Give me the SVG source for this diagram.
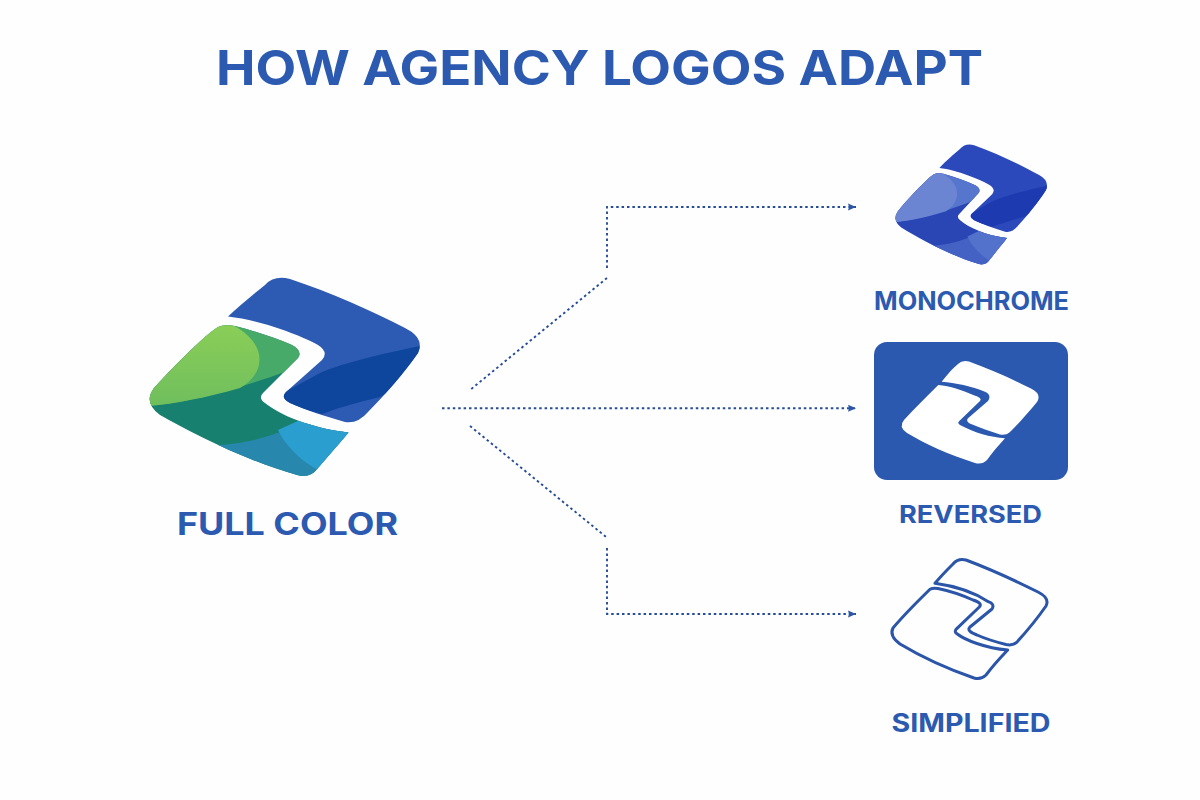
<svg xmlns="http://www.w3.org/2000/svg" width="1200" height="800" viewBox="0 0 1200 800">
<style>
text{font-family:"Inter","Liberation Sans",sans-serif;font-weight:700;fill:#2b5ab0}
.conn{fill:none;stroke:#264c98;stroke-width:1.9;stroke-dasharray:2.5 2.9}
.out{fill:none;stroke:#2a55a8;stroke-width:3;stroke-linejoin:round}
</style>
<defs>
<marker id="arrow" markerUnits="userSpaceOnUse" markerWidth="9" markerHeight="8" refX="8" refY="4" orient="auto"><path d="M0,0.5 L8,4 L0,7.5 L1,4Z" fill="#2a55a8"/></marker>
<linearGradient id="lg" x1="0" y1="0" x2="0" y2="1"><stop offset="0" stop-color="#8ed057"/><stop offset="1" stop-color="#6fbe5d"/></linearGradient>
<path id="t" d="M228,316.5 C240,305 255,293 265,285 Q274,275 290,279 C330,292 372,311 405,328 Q425,338 418,353 C405,372 385,395 368,412 Q358,424 345,422 C325,416 305,410 290,403 Q280,398 286,392 L322,360 Q329,352 318,345 C300,335 260,320 228,316.5Z"/>
<path id="l" d="M218,327 Q224,324 235,326 C255,331 275,338 292,345 Q303,351 298,358 L263,393 Q258,398 265,403 C280,415 310,428 348.5,432.5 C338,445 328,456 318,468 Q310,479 297,475 C250,462 195,435 160,415 Q143,403 154,388 C172,368 195,345 211,332Z"/>
<clipPath id="ct"><use href="#t"/></clipPath>
<clipPath id="cl"><use href="#l"/></clipPath>
<path id="dk" d="M425,345 C390,352 345,362 320,373 L270,400 L322,414 C340,407 360,402 380,397 L425,370Z"/>
<path id="md" d="M145,406 C180,405 240,388 285,372 L320,340 L200,310 L140,370Z"/>
<path id="lt" d="M145,406 C170,405 205,398 240,388 C268,372 268,340 226,322 L200,315 L140,370Z"/>
<path id="bb" d="M210,445 C240,446 275,436 300,423 L360,425 L330,490 L200,490Z"/>
<path id="lb" d="M278,430 C285,445 300,460 316,469 L360,440 L350,420 L300,420Z"/>
</defs>
<rect width="1200" height="800" fill="#fefefe"/>
<text id="title" x="216" y="84.5" font-size="48" textLength="767" lengthAdjust="spacingAndGlyphs">HOW AGENCY LOGOS ADAPT</text>
<g id="connectors">
<path class="conn" d="M607,268 V207 H856" marker-end="url(#arrow)"/>
<path class="conn" d="M607,278 L470,390"/>
<path class="conn" d="M442,408.3 H856" marker-end="url(#arrow)"/>
<path class="conn" d="M470,426 L607,537.7"/>
<path class="conn" d="M607,548 V614 H856" marker-end="url(#arrow)"/>
</g>
<g id="full-color">
<use href="#t" fill="#2d5bb3"/>
<g clip-path="url(#ct)"><use href="#dk" fill="#0e469d"/></g>
<use href="#l" fill="#17806f"/>
<g clip-path="url(#cl)">
<use href="#md" fill="#48aa68"/>
<use href="#lt" fill="url(#lg)"/>
<use href="#bb" fill="#2887ad"/>
<use href="#lb" fill="#2a9ecf"/>
</g>
<text x="177" y="535" font-size="31" textLength="221" lengthAdjust="spacingAndGlyphs">FULL COLOR</text>
</g>
<g id="monochrome">
<g transform="translate(811.5,-23.6) scale(.561,.605)">
<use href="#t" fill="#2c49bc"/>
<g clip-path="url(#ct)"><use href="#dk" fill="#1e3ab0"/></g>
<use href="#l" fill="#2a46b5"/>
<g clip-path="url(#cl)">
<use href="#md" fill="#5675cc"/>
<use href="#lt" fill="#6b85d2"/>
<use href="#bb" fill="#4462c4"/>
<use href="#lb" fill="#5272cc"/>
</g>
</g>
<text x="874" y="310" font-size="25" textLength="195" lengthAdjust="spacingAndGlyphs">MONOCHROME</text>
</g>
<g id="reversed">
<rect x="874" y="342" width="194" height="138" rx="13" fill="#2b59b0"/>
<path fill="#fff" d="M941.7,381.7 C947,375 953,368 958,364 Q962,360 969,361.5 C990,369 1012,379 1031,388.5 Q1042,394 1037,402 C1028,413 1019,423 1011,431 Q1006,436 1000,434.5 C990,431 980,428 971,424 Q965,421 968.3,418 L988,401 Q992,395 985,391.7 C972,386 955,383 941.7,381.7Z"/>
<path fill="#fff" d="M938.3,385 C950,386 962,390 973.3,395 Q983,398 980,401 L959.3,421 Q957,423 960,425 C975,433 990,437 1005,438.3 C998,446 992,453 987,460 Q982,465 975,463 C950,455 925,444 907,433 Q898,427 904,420 C915,408 927,396 938.3,385Z"/>
<text x="899" y="523" font-size="24.5" textLength="143" lengthAdjust="spacingAndGlyphs">REVERSED</text>
</g>
<g id="simplified">
<path class="out" d="M935,583.3 C941,576 948,569 953,564 Q958,558 966,560 C990,569 1016,581 1038,592 Q1050,598 1046,606 C1037,619 1027,631 1017,642 Q1013,646 1006,644.5 C996,642 986,639 977,635 Q966,631 970,627 L992,609 Q995,604 988.3,601.7 C975,593 955,586 935,583.3Z"/>
<path class="out" d="M930,589.3 Q933,587.5 938,588.5 C950,591 962,595 973,600 Q983,603 979.3,607 L956,629.3 Q954,632 957.3,634 C965,640 985,648 1007.7,650 C1000,658 992,667 986,675 Q981,680 974,678 C945,668 920,656 900,644 Q889,636 893,628 C904,615 917,602 930,589.3Z"/>
<text x="891.5" y="731.5" font-size="25" textLength="159" lengthAdjust="spacingAndGlyphs">SIMPLIFIED</text>
</g>
</svg>
